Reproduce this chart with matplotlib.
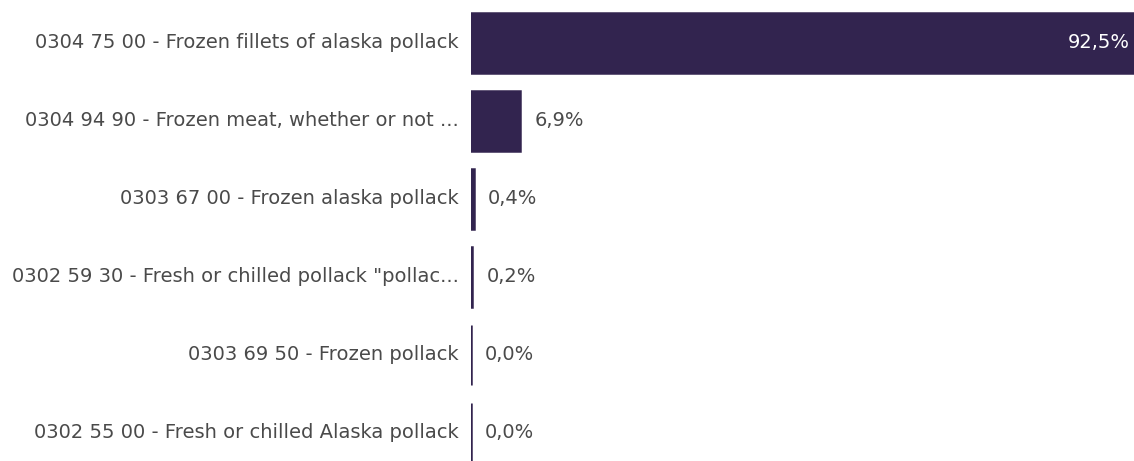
import matplotlib
matplotlib.use("Agg")
import matplotlib.pyplot as plt

categories = [
    "0304 75 00 - Frozen fillets of alaska pollack",
    "0304 94 90 - Frozen meat, whether or not ...",
    "0303 67 00 - Frozen alaska pollack",
    "0302 59 30 - Fresh or chilled pollack \"pollac...",
    "0303 69 50 - Frozen pollack",
    "0302 55 00 - Fresh or chilled Alaska pollack",
]
shares = [92.5, 6.9, 0.4, 0.2, 0.0, 0.0]
value_labels = ["92,5%", "6,9%", "0,4%", "0,2%", "0,0%", "0,0%"]

bar_color = "#32244F"
text_color = "#4A4A4A"

fig = plt.figure(figsize=(11.34, 4.61), dpi=100)
ax = fig.add_axes([471 / 1134, 0, 1 - 471 / 1134, 1])

y = list(range(len(categories)))
ax.barh(y, shares, height=0.77, color=bar_color, edgecolor=bar_color,
        linewidth=1.8)

ax.set_xlim(0, max(shares))
ax.set_ylim(5.36, -0.55)
ax.axis("off")

font = dict(family=["DejaVu Sans"], fontsize=14.0)
for yi, (cat, v, lab) in enumerate(zip(categories, shares, value_labels)):
    ax.annotate(cat, xy=(0, yi), xytext=(-9, 0), textcoords="offset points",
                ha="right", va="center", color=text_color, **font)
    if v > 50:
        ax.annotate(lab, xy=(v, yi), xytext=(-3, 0), textcoords="offset points",
                    ha="right", va="center", color="white", **font)
    else:
        ax.annotate(lab, xy=(v, yi), xytext=(10, 0), textcoords="offset points",
                    ha="left", va="center", color=text_color, **font)

fig.savefig("out.png", dpi=100, facecolor="white")
